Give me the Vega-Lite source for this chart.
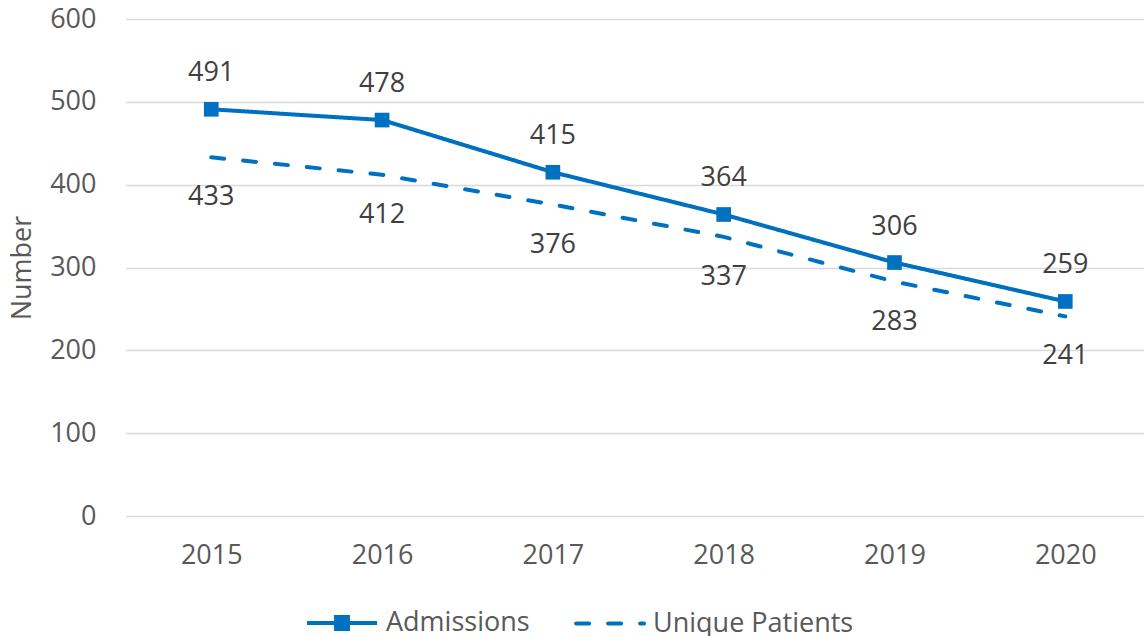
{
  "$schema": "https://vega.github.io/schema/vega-lite/v6.json",
  "width": 1018,
  "height": 497,
  "autosize": {"type": "none"},
  "padding": {"left": 126, "top": 19, "right": 0, "bottom": 120},
  "background": "white",
  "config": {
    "view": {"stroke": null},
    "font": "Open Sans"
  },
  "data": {
    "values": [
      {"year": "2015", "series": "Admissions", "value": 491},
      {"year": "2016", "series": "Admissions", "value": 478},
      {"year": "2017", "series": "Admissions", "value": 415},
      {"year": "2018", "series": "Admissions", "value": 364},
      {"year": "2019", "series": "Admissions", "value": 306},
      {"year": "2020", "series": "Admissions", "value": 259},
      {"year": "2015", "series": "Unique Patients", "value": 433},
      {"year": "2016", "series": "Unique Patients", "value": 412},
      {"year": "2017", "series": "Unique Patients", "value": 376},
      {"year": "2018", "series": "Unique Patients", "value": 337},
      {"year": "2019", "series": "Unique Patients", "value": 283},
      {"year": "2020", "series": "Unique Patients", "value": 241}
    ]
  },
  "encoding": {
    "x": {
      "field": "year",
      "type": "ordinal",
      "scale": {"type": "point", "padding": 0.48, "align": 0.52},
      "axis": {
        "title": null,
        "labelAngle": 0,
        "labelFontSize": 27,
        "labelColor": "#595959",
        "labelPadding": 26,
        "ticks": false,
        "domain": false,
        "grid": false
      }
    },
    "y": {
      "field": "value",
      "type": "quantitative",
      "scale": {"domain": [0, 600]},
      "axis": {
        "title": "Number",
        "titleFontSize": 27,
        "titleFontWeight": "normal",
        "titleColor": "#595959",
        "titlePadding": 13,
        "values": [0, 100, 200, 300, 400, 500, 600],
        "labelFontSize": 27,
        "labelColor": "#595959",
        "labelPadding": 30,
        "ticks": false,
        "domain": false,
        "grid": true,
        "gridColor": "#d9d9d9",
        "gridWidth": 1.6
      }
    }
  },
  "layer": [
    {
      "mark": {"type": "line", "strokeWidth": 4, "strokeCap": "round"},
      "encoding": {
        "color": {
          "field": "series",
          "type": "nominal",
          "scale": {"domain": ["Admissions", "Unique Patients"], "range": ["#0070C0", "#0070C0"]},
          "legend": {
            "orient": "none",
            "legendX": 179,
            "legendY": 567,
            "direction": "horizontal",
            "title": null,
            "symbolSize": 4900,
            "symbolStrokeWidth": 4,
            "labelFontSize": 27,
            "labelLimit": 400,
            "labelColor": "#595959",
            "labelOffset": 7,
            "columnPadding": 38,
            "encode": {
              "symbols": {
                "update": {
                  "shape": {"signal": "datum.value === 'Admissions' ? 'M-1,0H1M-0.17,-0.17H0.17V0.17H-0.17Z' : 'M-0.94,0H1'"},
                  "fill": {"value": "#0070C0"},
                  "stroke": {"value": "#0070C0"},
                  "strokeWidth": {"value": 4},
                  "strokeCap": {"signal": "datum.value === 'Admissions' ? 'butt' : 'round'"},
                  "strokeDash": {"signal": "datum.value === 'Admissions' ? [1, 0] : [13, 19]"}
                }
              }
            }
          }
        },
        "strokeDash": {
          "field": "series",
          "type": "nominal",
          "scale": {"domain": ["Admissions", "Unique Patients"], "range": [[1, 0], [13, 19]]},
          "legend": null
        }
      }
    },
    {
      "transform": [{"filter": "datum.series === 'Admissions'"}],
      "mark": {"type": "square", "size": 215, "filled": true, "opacity": 1, "color": "#0070C0"}
    },
    {
      "transform": [{"filter": "datum.series === 'Admissions'"}],
      "mark": {"type": "text", "dy": -36, "fontSize": 27, "color": "#404040"},
      "encoding": {"text": {"field": "value", "type": "quantitative"}}
    },
    {
      "transform": [{"filter": "datum.series === 'Unique Patients'"}],
      "mark": {"type": "text", "dy": 40, "fontSize": 27, "color": "#404040"},
      "encoding": {"text": {"field": "value", "type": "quantitative"}}
    }
  ]
}
